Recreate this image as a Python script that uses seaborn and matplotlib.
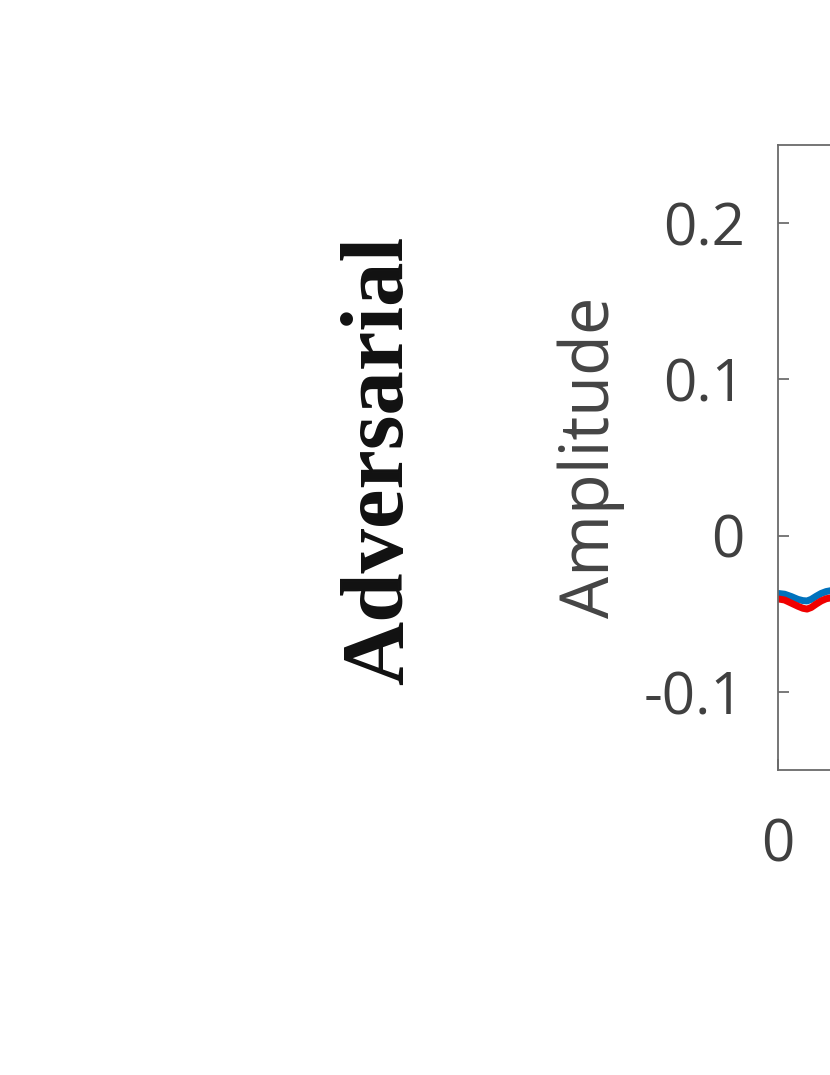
import numpy as np
import pandas as pd
import matplotlib
matplotlib.use("Agg")
import matplotlib.pyplot as plt
import seaborn as sns

sample = [0, 8, 16, 24, 30, 35, 40, 46, 52, 58, 64, 72, 80]
clean_signal = [-0.037, -0.0375, -0.039, -0.0408, -0.0416, -0.0418, -0.0408, -0.0388, -0.0370, -0.0358, -0.0352, -0.0350, -0.0352]
adv_signal = [-0.0405, -0.0412, -0.0432, -0.0452, -0.0465, -0.0470, -0.0460, -0.0438, -0.0418, -0.0404, -0.0398, -0.0396, -0.0398]
yticks = [-0.1, 0, 0.1, 0.2]
ytick_labels = ["-0.1", "0", "0.1", "0.2"]
xticks = [0]
xtick_labels = ["0"]

sns.set_theme(style="white")
plt.rcParams['font.family'] = ['Open Sans', 'DejaVu Sans']

W, H = 830, 1075
fig = plt.figure(figsize=(W / 100, H / 100), dpi=100)
fig.patch.set_facecolor("white")

ax_l, ax_t, ax_b = 778, 145, 770
ax_w = 830
ax = fig.add_axes([ax_l / W, (H - ax_b) / H, ax_w / W, (ax_b - ax_t) / H])

df = pd.DataFrame({
    "sample": sample * 2,
    "amp": clean_signal + adv_signal,
    "kind": ["clean"] * len(sample) + ["adv"] * len(sample),
})
sns.lineplot(data=df, x="sample", y="amp", hue="kind",
             palette={"clean": "#0072BD", "adv": "#F00000"},
             linewidth=5.0, ax=ax, legend=False, sort=False)

ax.set_xlim(0, 1000)
ax.set_ylim(-0.15, 0.25)
ax.set_yticks(yticks)
ax.set_yticklabels(ytick_labels)
ax.set_xticks(xticks)
ax.set_xticklabels(xtick_labels)
ax.set_xlabel("")

for s in ax.spines.values():
    s.set_visible(True)
    s.set_color("#6a6a6a")
    s.set_linewidth(1.3)

ax.tick_params(axis="both", direction="in", length=8, width=1.1,
               color="#555555", labelsize=42, labelcolor="#404040")
ax.tick_params(axis="y", pad=24, left=True)
ax.tick_params(axis="x", pad=34, bottom=True)

ax.set_ylabel("Amplitude", fontsize=48, color="#444444")
ax.yaxis.set_label_coords((591 - ax_l) / ax_w, 0.5)
ax.yaxis.label.set_va("center")

fig.text(381 / W, 1 - 460 / H, "Adversarial", rotation=90, ha="center", va="center",
         fontsize=64, fontweight="bold", family=["Liberation Serif", "DejaVu Serif"],
         color="#111111")

fig.savefig("out.png", dpi=100, facecolor="white")
